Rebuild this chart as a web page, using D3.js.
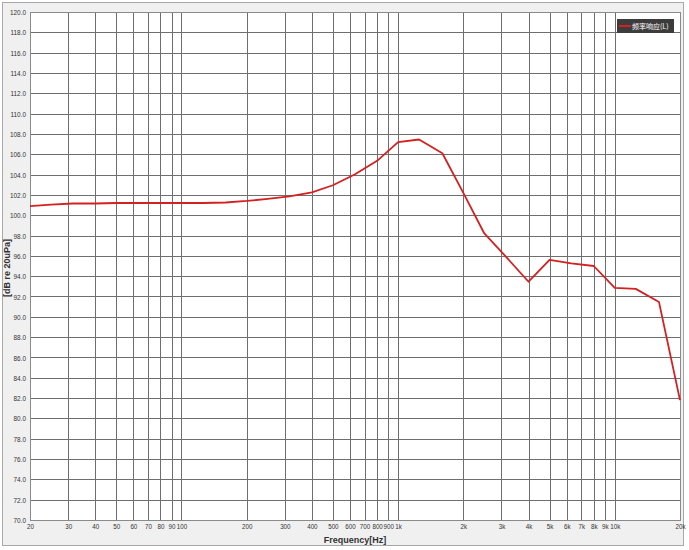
<!DOCTYPE html>
<html>
<head>
<meta charset="utf-8">
<script src="https://cdn.jsdelivr.net/npm/d3@7"></script>
<style>
  body { margin: 0; background: #ffffff; }
</style>
</head>
<body>
<script>
// #region DATA
var freqs = [20, 25, 31.5, 40, 50, 63, 80, 100, 125, 160, 200, 250, 315, 400, 500, 630, 800,
    1000, 1250, 1600, 2000, 2500, 3150, 4000, 5000, 6300, 8000, 10000, 12500, 16000, 20000];
var levels = [100.9, 101.05, 101.15, 101.15, 101.2, 101.2, 101.2, 101.2, 101.2, 101.25, 101.4, 101.6, 101.85, 102.25, 102.95, 104.0, 105.35,
    107.2, 107.45, 106.1, 102.2, 98.2, 95.9, 93.45, 95.6, 95.25, 95.0, 92.85, 92.75, 91.45, 81.8];

var xTicks = [20, 30, 40, 50, 60, 70, 80, 90, 100, 200, 300, 400, 500, 600, 700, 800, 900,
    1000, 2000, 3000, 4000, 5000, 6000, 7000, 8000, 9000, 10000, 20000];
var xTickLabels = ["20", "30", "40", "50", "60", "70", "80", "90", "100", "200", "300", "400", "500", "600", "700", "800", "900",
    "1k", "2k", "3k", "4k", "5k", "6k", "7k", "8k", "9k", "10k", "20k"];
var yTicks = d3.range(70, 121, 2);

var seriesName = "频率响应(L)";
// #endregion

// #region SETUP
var width = 689, height = 550;
var margin = {left: 30, right: 9, top: 12, bottom: 30};
var plotW = width - margin.left - margin.right;
var plotH = height - margin.top - margin.bottom;

var svg = d3.select("body")
    .append("svg")
    .attr("width", width)
    .attr("height", height)
    .style("display", "block")
    .style("font-family", "'Liberation Sans', sans-serif");

// outer panel
svg.append("rect")
    .attr("x", 2.5)
    .attr("y", 2.5)
    .attr("width", 681)
    .attr("height", 543)
    .attr("fill", "#f0f0f0")
    .attr("stroke", "#a8a8a8");

var x = d3.scaleLog()
    .domain([20, 20000])
    .range([margin.left, margin.left + plotW]);

var y = d3.scaleLinear()
    .domain([70, 120])
    .range([margin.top + plotH, margin.top]);

svg.append("rect")
    .attr("x", margin.left)
    .attr("y", margin.top)
    .attr("width", plotW)
    .attr("height", plotH)
    .attr("fill", "#ffffff");

// the original tick font is condensed, so squeeze the labels horizontally
var squeeze = 0.78;
// #endregion

// #region GRID
var grid = svg.append("g").attr("id", "grid");

grid.selectAll("line.h")
    .data(yTicks)
    .enter()
    .append("line")
    .attr("class", "h")
    .attr("x1", margin.left)
    .attr("x2", margin.left + plotW)
    .attr("y1", d => Math.round(y(d)) + 0.5)
    .attr("y2", d => Math.round(y(d)) + 0.5)
    .attr("stroke", "#6e6e6e")
    .attr("stroke-width", 1);

grid.selectAll("line.v")
    .data(xTicks)
    .enter()
    .append("line")
    .attr("class", "v")
    .attr("x1", d => Math.round(x(d)) + 0.5)
    .attr("x2", d => Math.round(x(d)) + 0.5)
    .attr("y1", margin.top)
    .attr("y2", margin.top + plotH)
    .attr("stroke", "#6e6e6e")
    .attr("stroke-width", 1);

// plot frame
svg.append("rect")
    .attr("x", margin.left + 0.5)
    .attr("y", margin.top + 0.5)
    .attr("width", plotW)
    .attr("height", plotH)
    .attr("fill", "none")
    .attr("stroke", "#8a8a8a");
// #endregion

// #region AXES
var yAxis = d3.axisLeft(y)
    .tickValues(yTicks)
    .tickSize(0)
    .tickPadding(4)
    .tickFormat(d3.format(".1f"));

svg.append("g")
    .attr("transform", "translate(" + margin.left + ",0)")
    .call(yAxis)
    .call(g => g.select(".domain").remove())
    .call(g => g.selectAll("text")
        .attr("fill", "#333333")
        .attr("x", -4 / 0.8)
        .attr("transform", "scale(0.8,1)")
        .style("font-size", "8px"));

var xAxis = d3.axisBottom(x)
    .tickValues(xTicks)
    .tickSize(0)
    .tickPadding(3)
    .tickFormat((d, i) => xTickLabels[i]);

svg.append("g")
    .attr("transform", "translate(0," + (margin.top + plotH) + ")")
    .call(xAxis)
    .call(g => g.select(".domain").remove())
    .call(g => g.selectAll("text")
        .attr("fill", "#333333")
        .attr("transform", "scale(" + squeeze + ",1)")
        .style("font-size", "8px"));

svg.append("text")
    .text("Frequency[Hz]")
    .attr("x", margin.left + plotW / 2)
    .attr("y", 543)
    .attr("text-anchor", "middle")
    .attr("fill", "#333333")
    .style("font-size", "9px")
    .style("font-weight", "bold");

svg.append("text")
    .text("[dB re 20uPa]")
    .attr("transform", "translate(10," + (margin.top + plotH / 2 + 2) + ") rotate(-90)")
    .attr("text-anchor", "middle")
    .attr("fill", "#333333")
    .style("font-size", "9px")
    .style("font-weight", "bold");
// #endregion

// #region CURVE
var line = d3.line()
    .x((d, i) => x(freqs[i]))
    .y(d => y(d));

svg.append("path")
    .datum(levels)
    .attr("d", line)
    .attr("fill", "none")
    .attr("stroke", "#d42020")
    .attr("stroke-width", 1.8)
    .attr("stroke-linejoin", "round");
// #endregion

// #region LEGEND
var legend = svg.append("g")
    .attr("id", "legend");

legend.append("rect")
    .attr("x", 617)
    .attr("y", 19)
    .attr("width", 57)
    .attr("height", 14)
    .attr("fill", "#3c3c3c");

legend.append("line")
    .attr("x1", 619)
    .attr("x2", 631)
    .attr("y1", 26)
    .attr("y2", 26)
    .attr("stroke", "#d42020")
    .attr("stroke-width", 2);

legend.append("text")
    .text(seriesName)
    .attr("x", 632)
    .attr("y", 29)
    .attr("fill", "#ffffff")
    .style("font-family", "'Noto Sans CJK SC', sans-serif")
    .style("font-size", "7px");
// #endregion
</script>
</body>
</html>
